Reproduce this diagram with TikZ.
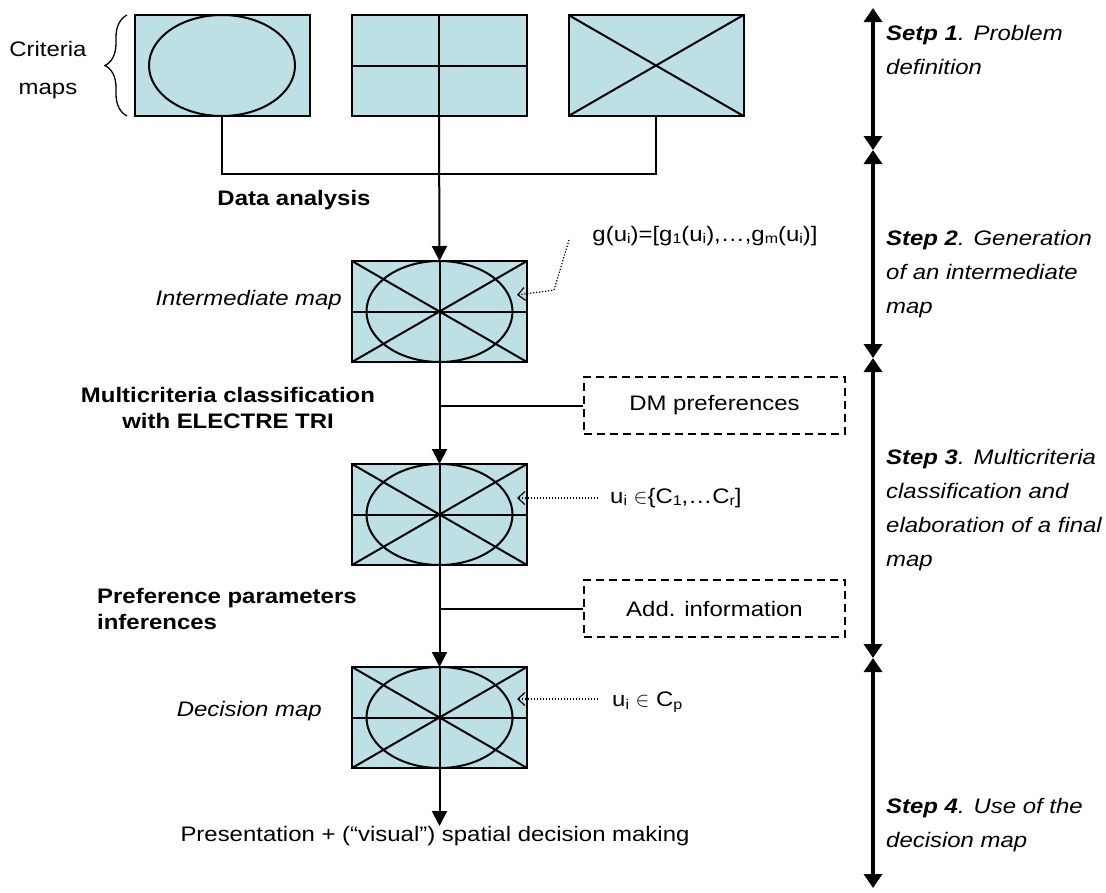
\documentclass[tikz,border=0pt]{standalone}
\usepackage{fontspec}
\setmainfont[FakeStretch=1.14]{Liberation Sans}
\usetikzlibrary{arrows.meta,decorations.pathreplacing,calc}
\definecolor{mapfill}{RGB}{189,224,228}
\newcommand\subs[1]{\raisebox{-2.5pt}{\fontsize{14}{14}\selectfont #1}}
\newcommand\ellmap[1]{\draw[mapline] (#1.center) ellipse [x radius=73pt,y radius=50.5pt];}
\newcommand\crossmap[1]{\draw[mapline] (#1.north)--(#1.south) (#1.west)--(#1.east);}
\newcommand\diagmap[1]{\draw[mapline] (#1.north west)--(#1.south east) (#1.south west)--(#1.north east);}
\begin{document}
\begin{tikzpicture}[x=1pt,y=-1pt,
  mapbox/.style={draw,line width=2pt,fill=mapfill,minimum width=175pt,minimum height=101pt,inner sep=0pt,outer sep=0pt},
  mapline/.style={line width=2pt},
  conn/.style={line width=2pt},
  flow/.style={line width=2pt,-{Triangle[length=15pt,width=15pt]}},
  note/.style={line width=1.2pt,dash pattern=on 1.2pt off 1.8pt,-{Straight Barb[length=7pt,width=13pt]}},
  dmbox/.style={draw,line width=1.6pt,dash pattern=on 8pt off 5pt,minimum width=261pt,minimum height=57pt,inner sep=0pt,font=\fontsize{21}{25}\selectfont},
  steparrow/.style={line width=4pt,{Triangle[length=14pt,width=18pt]}-{Triangle[length=14pt,width=18pt]}},
  txt/.style={font=\fontsize{21}{25}\selectfont,inner sep=0pt},
  boldtxt/.style={font=\fontsize{21}{26}\selectfont\bfseries,inner sep=0pt},
  itxt/.style={font=\fontsize{21}{25}\selectfont\itshape,inner sep=0pt},
  steptxt/.style={font=\fontsize{21}{34}\selectfont\itshape,inner sep=0pt,align=left,anchor=base west}
]
\useasboundingbox (0,0) rectangle (1106,892);

% criteria maps
\node[mapbox] (m1) at (222,65.5) {};
\ellmap{m1}
\node[mapbox] (m2) at (439,65.5) {};
\crossmap{m2}
\node[mapbox] (m3) at (656,65.5) {};
\diagmap{m3}

\node[txt,align=center,font=\fontsize{21}{38}\selectfont] (crit) at (48,70) {Criteria\\maps};
\coordinate (br1) at (127,116);
\coordinate (br2) at (127,15);
\draw[line width=1.3pt,decorate,decoration={brace,amplitude=22pt,aspect=0.5}] (br1) -- (br2);

% intermediate, classified, decision maps
\node[mapbox] (mi) at (439.5,311.5) {};
\ellmap{mi}\crossmap{mi}\diagmap{mi}
\node[mapbox] (mc) at (439.5,514.5) {};
\ellmap{mc}\crossmap{mc}\diagmap{mc}
\node[mapbox] (md) at (439.5,717.5) {};
\ellmap{md}\crossmap{md}\diagmap{md}

% connectors from criteria maps
\coordinate (j1) at (222,174);
\draw[conn] (m1.south) -- (j1) -| (m3.south);
\draw[flow] (m2.south) -- (mi.north);
\draw[flow] (mi.south) -- (mc.north);
\draw[flow] (mc.south) -- (md.north);
\coordinate (ptip) at (439.5,826);
\draw[flow] (md.south) -- (ptip);

% dashed input boxes
\node[dmbox] (dm) at (714.5,405.5) {DM preferences};
\node[dmbox] (ai) at (714.5,608.5) {Add. information};
\draw[conn] (dm.west) -- (dm.west -| mi.south);
\draw[conn] (ai.west) -- (ai.west -| mc.south);

% left labels
\node[boldtxt,anchor=base] (da) at (294,205) {Data analysis};
\node[itxt,anchor=east] (il) at (342,300) {Intermediate map};
\node[boldtxt,align=center] (mcl) at (228,408) {Multicriteria classification\\with ELECTRE TRI};
\node[boldtxt,align=left,anchor=west] (ppi) at (97,608.5) {Preference parameters\\inferences};
\node[itxt,anchor=east] (dml) at (322,711) {Decision map};

% annotation labels
\node[txt] (gl) at (705,236) {g(u\subs{i})=[g\subs{1}(u\subs{i}),…,g\subs{m}(u\subs{i})]};
\coordinate (g1) at (569,240);
\coordinate (g2) at (554,290);
\coordinate (g3) at (517,295);
\draw[note] (g1) -- (g2) -- (g3);

\node[txt,anchor=west] (cl) at (610,498) {u\subs{i} $\in$\{C\subs{1},…C\subs{r}]};
\coordinate (c1) at (598,498);
\coordinate (c2) at (517,498);
\draw[note] (c1) -- (c2);

\node[txt,anchor=west] (pl) at (612,702) {u\subs{i} $\in$ C\subs{p}};
\coordinate (p1) at (598,699);
\coordinate (p2) at (517,699);
\draw[note] (p1) -- (p2);

\node[txt] (pres) at (435,836) {Presentation + (“visual”) spatial decision making};

% step arrows
\coordinate (s0) at (873,8);
\coordinate (s1) at (873,150);
\coordinate (s2) at (873,358);
\coordinate (s3) at (873,658);
\coordinate (s4) at (873,888);
\draw[steparrow] (s0) -- (s1);
\draw[steparrow] (s1) -- (s2);
\draw[steparrow] (s2) -- (s3);
\draw[steparrow] (s3) -- (s4);

\node[steptxt] (st1) at (886,74) {\textbf{Setp 1}. Problem\\definition};
\node[steptxt] (st2) at (886,313) {\textbf{Step 2}. Generation\\of an intermediate\\map};
\node[steptxt] (st3) at (886,566) {\textbf{Step 3}. Multicriteria\\classification and\\elaboration of a final\\map};
\node[steptxt] (st4) at (886,847) {\textbf{Step 4}. Use of the\\decision map};
\end{tikzpicture}
\end{document}
